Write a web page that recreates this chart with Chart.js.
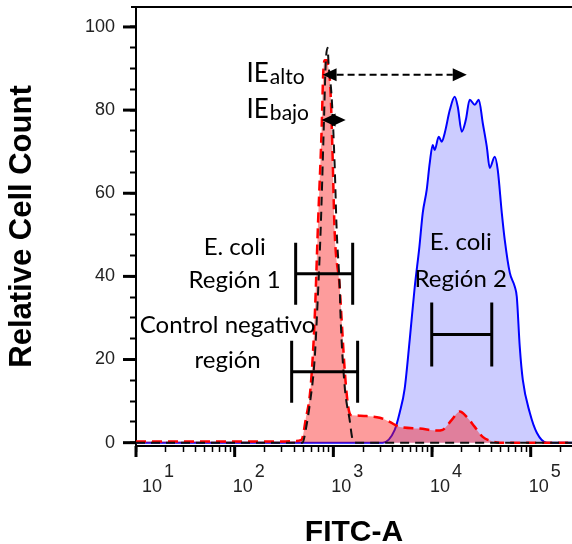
<!DOCTYPE html>
<html>
<head>
<meta charset="utf-8">
<script src="https://cdn.jsdelivr.net/npm/chart.js@4.4.1/dist/chart.umd.min.js"></script>
<style>
html,body{margin:0;padding:0;background:#fff;}
#wrap{width:572px;height:544px;position:relative;}
</style>
</head>
<body>
<div id="wrap"><canvas id="c" width="572" height="544"></canvas></div>
<script>
// ---------------- DATA ----------------
// FITC-A intensity (x) and relative cell count (y)
const controlX = [10, 300, 488, 524, 575, 646, 693, 743, 798, 836, 875, 895, 962, 1030, 1081, 1159, 1186, 1303, 1462, 1570, 1722, 262144];
const controlY = [0, 0, 0, 3, 9, 20, 34, 51, 75, 91, 95, 91, 83, 67, 51, 37.5, 29.6, 13.5, 5.5, 0.7, 0, 0];

const ecoliLowX = [10, 300, 415, 476, 524, 589, 646, 700, 760, 790, 820, 860, 895, 930, 975, 1030, 1159, 1213, 1303, 1396, 1480, 1535, 1849, 2173, 2951, 3724, 4699, 7499, 11143, 12823, 15849, 19099, 22491, 27102, 32659, 41210, 48529, 262144];
const ecoliLowY = [0.3, 0.3, 0.4, 0.7, 5.5, 13.5, 29.6, 53, 75, 89, 92, 92, 90, 86, 72, 51, 37.5, 29.6, 17.5, 9.6, 6.8, 6.6, 6.5, 6.4, 6.0, 5.0, 3.8, 3.4, 2.9, 3.1, 5.5, 7.5, 6.2, 3.8, 1.4, 0.3, 0, 0];

const ecoliHighX = [10, 3162, 4188, 4699, 5284, 5943, 6683, 7447, 8054, 8831, 9484, 10162, 10641, 11695, 12531, 13459, 15136, 16982, 18239, 19999, 21979, 24099, 27102, 29785, 32659, 35892, 38459, 43251, 46345, 50933, 54576, 61376, 69024, 72277, 77446, 83176, 97949, 115345, 145546, 262144];
const ecoliHighY = [0, 0, 3.1, 7.2, 13, 24.8, 37.5, 47.1, 55.3, 60.8, 67.3, 71.6, 70.4, 73.6, 72.4, 74.5, 80, 83.2, 80.8, 74.8, 77.6, 82.5, 81.3, 82.5, 76.9, 71.2, 66.1, 68.8, 65.6, 55.3, 48.8, 40.9, 37.5, 35.1, 23.1, 15.1, 7.2, 2.4, 0, 0];

// axis ticks
const yTickValues = [0,5,10,15,20,25,30,35,40,45,50,55,60,65,70,75,80,85,90,95,100];
const yMajorValues = [0, 20, 40, 60, 80, 100];
const yTickLabels = ['0', '20', '40', '60', '80', '100'];
const xDecadeValues = [10, 100, 1000, 10000, 100000];
const xDecadeBase = ['10', '10', '10', '10', '10'];
const xDecadeExp = ['1', '2', '3', '4', '5'];
const xMinorFactors = [2, 3, 4, 5, 6, 7, 8, 9];

// annotations (in data units)
const bracketDefs = [
  {x0: 415,  x1: 1570,  y0: 33.2, y1: 48.1},
  {x0: 378,  x1: 1762,  y0: 9.6,  y1: 24.5},
  {x0: 9930, x1: 40300, y0: 18.3, y1: 33.7}
];
const textDefs = [
  {lines: ['E. coli', 'Región 1'], x: 100, y: [45.2, 37.3]},
  {lines: ['Control negativo', 'región'], x: 84.7, y: [26.4, 18.0]},
  {lines: ['E. coli', 'Región 2'], x: 19540, y: [46.4, 37.5]}
];
const arrowDefs = [
  {main: 'IE', sub: 'alto', textX: 132, textY: 86.8, x0: 778, x1: 22500, y: 88.5, dashed: true},
  {main: 'IE', sub: 'bajo', textX: 132, textY: 78.1, x0: 760, x1: 1333, y: 77.6, dashed: false}
];

// ---------------- CHART ----------------
const SANS = '"Liberation Sans", Arial, Helvetica, sans-serif';
const LATO = 'Lato, "Open Sans", sans-serif';
Chart.defaults.font.family = SANS;

const xTickValues = [];
xDecadeValues.forEach(d => {
  xTickValues.push(d);
  xMinorFactors.forEach(f => { if (d * f <= 262144) xTickValues.push(d * f); });
});

const toPts = (xs, ys) => xs.map((v, i) => ({x: v, y: ys[i]}));

const axisDecor = {
  id: 'axisDecor',
  afterDraw(chart) {
    const {ctx, chartArea: ca, scales: {x, y}} = chart;
    ctx.save();
    ctx.strokeStyle = '#000';
    // top frame line
    ctx.lineWidth = 2;
    ctx.beginPath(); ctx.moveTo(ca.left - 5, ca.top); ctx.lineTo(ca.right, ca.top); ctx.stroke();
    // y major ticks (longer)
    ctx.lineWidth = 3;
    yMajorValues.forEach(v => {
      const py = y.getPixelForValue(v);
      ctx.beginPath(); ctx.moveTo(ca.left - 13, py); ctx.lineTo(ca.left, py); ctx.stroke();
    });
    // x major ticks (longer)
    xDecadeValues.forEach(v => {
      const px = x.getPixelForValue(v);
      ctx.beginPath(); ctx.moveTo(px, ca.bottom); ctx.lineTo(px, ca.bottom + 11); ctx.stroke();
    });
    // x decade labels 10^n
    ctx.fillStyle = '#222';
    ctx.font = '18px ' + SANS;
    ctx.textBaseline = 'alphabetic';
    xDecadeValues.forEach((v, i) => {
      const px = x.getPixelForValue(v);
      const cx = px + (i === 0 ? 16 : 8);
      ctx.textAlign = 'center';
      ctx.fillText(xDecadeBase[i], cx, ca.bottom + 46);
      const w = ctx.measureText(xDecadeBase[i]).width;
      ctx.textAlign = 'left';
      ctx.fillText(xDecadeExp[i], cx + w / 2 + 2, ca.bottom + 31);
    });
    ctx.restore();
  }
};

function arrowHead(ctx, tipX, y, dir, len, half) {
  ctx.beginPath();
  ctx.moveTo(tipX, y);
  ctx.lineTo(tipX + dir * len, y - half);
  ctx.lineTo(tipX + dir * len, y + half);
  ctx.closePath();
  ctx.fill();
}

const annot = {
  id: 'annot',
  afterDatasetsDraw(chart) {
    const {ctx, scales: {x, y}} = chart;
    ctx.save();
    ctx.strokeStyle = '#000';
    ctx.fillStyle = '#000';
    // brackets
    ctx.lineWidth = 3;
    bracketDefs.forEach(b => {
      const a = x.getPixelForValue(b.x0), c = x.getPixelForValue(b.x1);
      const t = y.getPixelForValue(b.y1), btm = y.getPixelForValue(b.y0);
      const m = (t + btm) / 2;
      ctx.beginPath();
      ctx.moveTo(a, t); ctx.lineTo(a, btm);
      ctx.moveTo(c, t); ctx.lineTo(c, btm);
      ctx.moveTo(a, m); ctx.lineTo(c, m);
      ctx.stroke();
    });
    // region texts
    ctx.font = '24px ' + LATO;
    ctx.textAlign = 'center';
    ctx.textBaseline = 'alphabetic';
    textDefs.forEach(t => {
      const px = x.getPixelForValue(t.x);
      t.lines.forEach((ln, i) => ctx.fillText(ln, px, y.getPixelForValue(t.y[i])));
    });
    // IE arrows
    arrowDefs.forEach(a => {
      const tx = x.getPixelForValue(a.textX), ty = y.getPixelForValue(a.textY);
      ctx.textAlign = 'left';
      ctx.font = '26px ' + LATO;
      ctx.fillText(a.main, tx, ty);
      const w = ctx.measureText(a.main).width;
      ctx.font = '21px ' + LATO;
      ctx.fillText(a.sub, tx + w + 1, ty + 2);
      const x0 = x.getPixelForValue(a.x0), x1 = x.getPixelForValue(a.x1), py = y.getPixelForValue(a.y);
      const len = 14, half = 6.5;
      if (a.dashed) {
        ctx.lineWidth = 2;
        ctx.setLineDash([7, 4]);
        ctx.beginPath(); ctx.moveTo(x0 + len, py); ctx.lineTo(x1 - len, py); ctx.stroke();
        ctx.setLineDash([]);
      }
      arrowHead(ctx, x0, py, 1, len, half);
      arrowHead(ctx, x1, py, -1, len, half);
    });
    ctx.restore();
  }
};

new Chart(document.getElementById('c'), {
  type: 'line',
  data: {
    datasets: [
      {
        label: 'Control negativo',
        data: toPts(controlX, controlY),
        borderColor: '#111',
        borderWidth: 2,
        borderDash: [9, 6],
        fill: false,
        pointRadius: 0,
        cubicInterpolationMode: 'monotone',
        order: 0
      },
      {
        label: 'E. coli (IE bajo)',
        data: toPts(ecoliLowX, ecoliLowY),
        borderColor: '#ff0000',
        backgroundColor: 'rgba(250,20,20,0.42)',
        borderWidth: 2.5,
        borderDash: [10, 6],
        fill: 'origin',
        pointRadius: 0,
        cubicInterpolationMode: 'monotone',
        order: 1
      },
      {
        label: 'E. coli (IE alto)',
        data: toPts(ecoliHighX, ecoliHighY),
        borderColor: '#0000ff',
        backgroundColor: 'rgba(0,0,255,0.2)',
        borderWidth: 2,
        fill: 'origin',
        pointRadius: 0,
        cubicInterpolationMode: 'monotone',
        order: 2
      }
    ]
  },
  options: {
    responsive: false,
    animation: false,
    devicePixelRatio: 1,
    layout: {padding: {top: 7, left: 0, right: 0, bottom: 0}},
    plugins: {legend: {display: false}, tooltip: {enabled: false}},
    scales: {
      x: {
        type: 'logarithmic',
        min: 10,
        max: 262144,
        afterFit(s) { s.height = 98; s.paddingLeft = 0; s.paddingRight = 0; },
        afterBuildTicks(s) { s.ticks = xTickValues.map(v => ({value: v})); },
        ticks: {callback: () => '', autoSkip: false, maxRotation: 0},
        grid: {drawOnChartArea: false, tickLength: 6, tickWidth: 1.5, tickColor: '#000'},
        border: {display: true, color: '#000', width: 2},
        title: {
          display: true, text: 'FITC-A', color: '#000',
          font: {family: SANS, size: 30, weight: 'bold', lineHeight: 0.8},
          padding: {top: 0, bottom: -1}
        }
      },
      y: {
        min: -0.8,
        max: 104.8,
        afterFit(s) { s.width = 136; s.paddingTop = 0; s.paddingBottom = 0; },
        afterBuildTicks(s) { s.ticks = yTickValues.map(v => ({value: v})); },
        ticks: {
          callback: (v) => { const i = yMajorValues.indexOf(v); return i >= 0 ? yTickLabels[i] : ''; },
          autoSkip: false, padding: 15, color: '#222',
          font: {family: SANS, size: 18}
        },
        grid: {drawOnChartArea: false, tickLength: 6, tickWidth: 2, tickColor: '#000'},
        border: {display: true, color: '#000', width: 2},
        title: {
          display: true, text: 'Relative Cell Count', color: '#000',
          font: {family: SANS, size: 31, weight: 'bold', lineHeight: 1.2},
          padding: {top: 4, bottom: 0}
        }
      }
    }
  },
  plugins: [axisDecor, annot]
});
</script>
</body>
</html>
